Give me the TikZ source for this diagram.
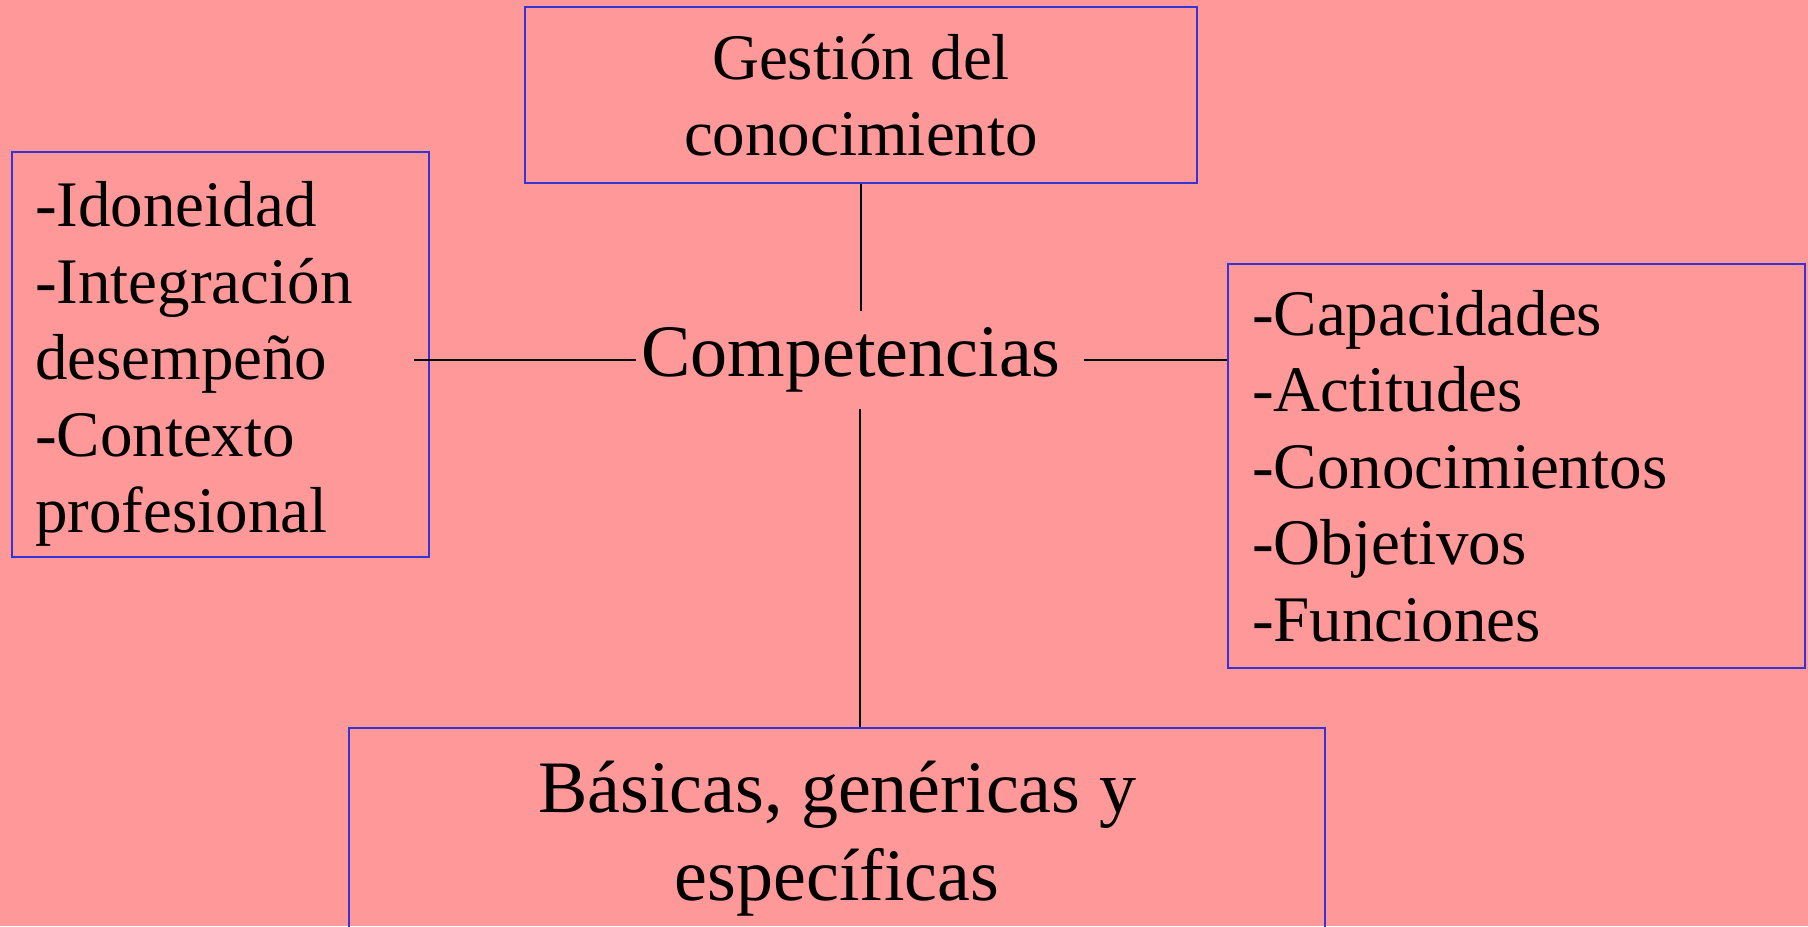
\documentclass[tikz,border=0pt]{standalone}
\usepackage{fontspec}
\setmainfont{Liberation Serif}
\definecolor{fondo}{RGB}{255,153,153}
\definecolor{borde}{RGB}{51,51,214}

\begin{document}
\begin{tikzpicture}[x=0.5pt,y=-0.5pt,
	caja/.style={draw=borde, line width=1.2pt, inner sep=0pt},
	txt/.style={font=\fontsize{32.5pt}{38.25pt}\selectfont},
	grande/.style={font=\fontsize{37pt}{44pt}\selectfont}]
	\clip (0,0) rectangle (1808,926);
	\fill[fondo] (0,0) rectangle (1808,926);
	%cajas
	\node[caja, txt, minimum width=336pt, minimum height=88pt, align=center] (gestion) at (861,95) {Gestión del\\conocimiento};
	\node[grande, inner sep=0pt, minimum width=224pt, minimum height=48.5pt] (comp) at (860,360) {Competencias\kern9pt};
	\node[caja, txt, minimum width=208.5pt, minimum height=202.5pt, text width=185.5pt, align=left] (rasgos) at (220.5,354.5)
	{\rule{0pt}{32pt}-Idoneidad\\-Integración\\desempeño\\-Contexto\\profesional};
	\node[caja, txt, minimum width=288.5pt, minimum height=202pt, text width=264.5pt, align=left] (elementos) at (1516.5,466)
	{-Capacidades\\-Actitudes\\-Conocimientos\\-Objetivos\\-Funciones};
	\node[caja, grande, minimum width=488pt, minimum height=110.5pt, align=center] (tipos) at (837,838.5) {Básicas, genéricas y\\específicas};
	%lineas
	\draw[line width=1pt] (gestion.south) -- (gestion.south |- comp.north);
	\draw[line width=1pt] (comp.south) -- (comp.south |- tipos.north);
	\draw[line width=1pt] (comp.east) -- (comp.east -| elementos.west);
	\draw[line width=1pt] (comp.west) -- ([xshift=-8pt]comp.west -| rasgos.east);
\end{tikzpicture}
\end{document}
